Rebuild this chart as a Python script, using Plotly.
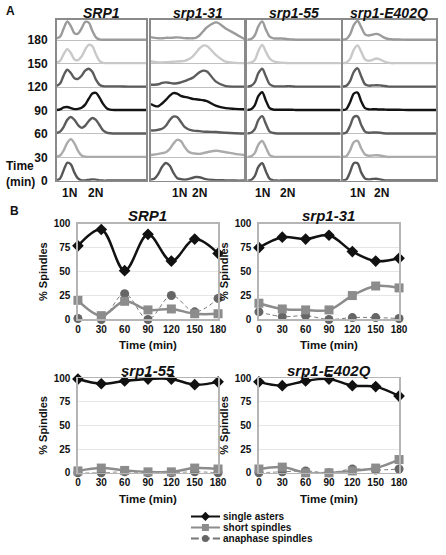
import plotly.graph_objects as go

W, H = 446, 555

# ---------------- data ----------------
STRAINS = ["SRP1", "srp1-31", "srp1-55", "srp1-E402Q"]
TIMES = [0, 30, 60, 90, 120, 150, 180]
TIME_LABELS = ["0", "30", "60", "90", "120", "150", "180"]

# Panel A: DNA-content histograms (relative DNA content in %, height in row units)
DNA_GRID = [0, 4, 8, 12, 16, 20, 24, 28, 32, 36, 40, 44, 48, 52, 56, 60, 70, 80, 90, 100]

SRP1_HIST = [
    [0.02, 0.10, 0.45, 0.77, 0.70, 0.35, 0.10, 0.02, 0.02, 0.04, 0.06, 0.05, 0.02, 0.01, 0.01, 0.01, 0.01, 0.01, 0.01, 0.01],
    [0.03, 0.08, 0.30, 0.62, 0.78, 0.60, 0.28, 0.08, 0.03, 0.02, 0.02, 0.02, 0.02, 0.02, 0.02, 0.02, 0.02, 0.02, 0.02, 0.02],
    [0.04, 0.10, 0.30, 0.60, 0.72, 0.60, 0.38, 0.26, 0.35, 0.55, 0.68, 0.60, 0.38, 0.15, 0.06, 0.03, 0.02, 0.02, 0.02, 0.02],
    [0.02, 0.05, 0.13, 0.15, 0.10, 0.06, 0.07, 0.12, 0.25, 0.50, 0.72, 0.75, 0.55, 0.28, 0.10, 0.04, 0.02, 0.02, 0.02, 0.02],
    [0.05, 0.15, 0.50, 0.74, 0.60, 0.38, 0.35, 0.48, 0.70, 0.78, 0.65, 0.32, 0.10, 0.04, 0.03, 0.03, 0.03, 0.02, 0.02, 0.02],
    [0.05, 0.12, 0.40, 0.62, 0.45, 0.18, 0.15, 0.30, 0.60, 0.80, 0.75, 0.40, 0.12, 0.03, 0.02, 0.02, 0.02, 0.02, 0.02, 0.02],
    [0.08, 0.15, 0.50, 0.80, 0.60, 0.30, 0.28, 0.50, 0.78, 0.75, 0.40, 0.12, 0.03, 0.02, 0.02, 0.02, 0.02, 0.02, 0.02, 0.02],
]
SRP1_31_HIST = [
    [0.05, 0.10, 0.30, 0.60, 0.76, 0.65, 0.35, 0.12, 0.07, 0.05, 0.07, 0.12, 0.16, 0.15, 0.10, 0.06, 0.03, 0.02, 0.01, 0.01],
    [0.10, 0.12, 0.15, 0.18, 0.22, 0.35, 0.58, 0.75, 0.70, 0.45, 0.25, 0.18, 0.16, 0.15, 0.18, 0.22, 0.28, 0.22, 0.15, 0.10],
    [0.15, 0.15, 0.18, 0.22, 0.35, 0.58, 0.74, 0.72, 0.52, 0.30, 0.20, 0.15, 0.13, 0.12, 0.10, 0.09, 0.08, 0.05, 0.03, 0.02],
    [0.28, 0.20, 0.18, 0.30, 0.45, 0.62, 0.74, 0.72, 0.62, 0.58, 0.55, 0.50, 0.48, 0.46, 0.44, 0.40, 0.20, 0.10, 0.07, 0.05],
    [0.10, 0.10, 0.12, 0.18, 0.20, 0.18, 0.15, 0.16, 0.20, 0.25, 0.32, 0.38, 0.50, 0.63, 0.70, 0.66, 0.22, 0.04, 0.02, 0.02],
    [0.10, 0.07, 0.05, 0.05, 0.06, 0.07, 0.08, 0.09, 0.10, 0.12, 0.18, 0.28, 0.45, 0.65, 0.77, 0.75, 0.35, 0.08, 0.03, 0.02],
    [0.13, 0.10, 0.08, 0.08, 0.10, 0.10, 0.11, 0.12, 0.11, 0.09, 0.08, 0.08, 0.10, 0.20, 0.38, 0.55, 0.76, 0.50, 0.28, 0.05],
]
SRP1_55_HIST = [
    [0.01, 0.03, 0.20, 0.60, 0.75, 0.40, 0.08, 0.02, 0.01, 0.01, 0.01, 0.01, 0.01, 0.01, 0.01, 0.01, 0.01, 0.01, 0.01, 0.01],
    [0.02, 0.04, 0.18, 0.55, 0.70, 0.42, 0.10, 0.03, 0.02, 0.02, 0.02, 0.02, 0.02, 0.02, 0.02, 0.02, 0.02, 0.02, 0.02, 0.02],
    [0.02, 0.05, 0.20, 0.60, 0.76, 0.42, 0.10, 0.04, 0.02, 0.02, 0.02, 0.02, 0.02, 0.02, 0.02, 0.02, 0.02, 0.02, 0.02, 0.02],
    [0.02, 0.05, 0.22, 0.62, 0.78, 0.42, 0.10, 0.04, 0.03, 0.03, 0.03, 0.03, 0.03, 0.02, 0.02, 0.02, 0.02, 0.02, 0.02, 0.02],
    [0.02, 0.05, 0.20, 0.60, 0.78, 0.45, 0.12, 0.04, 0.03, 0.03, 0.03, 0.04, 0.03, 0.02, 0.02, 0.02, 0.02, 0.02, 0.02, 0.02],
    [0.02, 0.04, 0.15, 0.55, 0.80, 0.50, 0.22, 0.10, 0.06, 0.04, 0.03, 0.02, 0.02, 0.02, 0.02, 0.02, 0.02, 0.02, 0.02, 0.02],
    [0.02, 0.05, 0.20, 0.60, 0.80, 0.45, 0.15, 0.08, 0.07, 0.07, 0.06, 0.04, 0.03, 0.02, 0.02, 0.02, 0.02, 0.02, 0.02, 0.02],
]
SRP1_E402Q_HIST = [
    [0.02, 0.06, 0.38, 0.75, 0.75, 0.35, 0.10, 0.06, 0.08, 0.09, 0.06, 0.03, 0.02, 0.02, 0.02, 0.02, 0.02, 0.02, 0.02, 0.02],
    [0.02, 0.05, 0.30, 0.65, 0.70, 0.38, 0.12, 0.07, 0.08, 0.09, 0.08, 0.05, 0.02, 0.02, 0.02, 0.02, 0.02, 0.02, 0.02, 0.02],
    [0.02, 0.06, 0.35, 0.72, 0.75, 0.38, 0.10, 0.05, 0.06, 0.06, 0.05, 0.03, 0.02, 0.02, 0.02, 0.02, 0.02, 0.02, 0.02, 0.02],
    [0.02, 0.06, 0.35, 0.72, 0.76, 0.38, 0.10, 0.05, 0.05, 0.05, 0.04, 0.04, 0.03, 0.03, 0.03, 0.03, 0.02, 0.02, 0.02, 0.02],
    [0.02, 0.05, 0.25, 0.65, 0.80, 0.45, 0.12, 0.06, 0.07, 0.08, 0.07, 0.05, 0.03, 0.02, 0.02, 0.02, 0.02, 0.02, 0.02, 0.02],
    [0.02, 0.04, 0.20, 0.60, 0.78, 0.50, 0.18, 0.12, 0.16, 0.22, 0.18, 0.10, 0.04, 0.02, 0.02, 0.02, 0.02, 0.02, 0.02, 0.02],
    [0.02, 0.05, 0.25, 0.65, 0.82, 0.55, 0.25, 0.20, 0.24, 0.27, 0.22, 0.12, 0.06, 0.04, 0.03, 0.03, 0.02, 0.02, 0.02, 0.02],
]
HISTS = [SRP1_HIST, SRP1_31_HIST, SRP1_55_HIST, SRP1_E402Q_HIST]
ROW_COLORS = ["#575757", "#ababab", "#5c5c5c", "#141414", "#5c5c5c", "#c9c9c9", "#9b9b9b"]

# Panel B: % spindles
SRP1_ASTERS = [77, 94, 51, 89, 61, 84, 69]
SRP1_SHORT = [20, 4, 19, 10, 11, 6, 6]
SRP1_ANA = [1, 0, 27, 0, 25, 8, 22]

SRP1_31_ASTERS = [75, 86, 84, 88, 71, 61, 64]
SRP1_31_SHORT = [17, 11, 10, 10, 25, 35, 33]
SRP1_31_ANA = [8, 3, 4, 0, 2, 2, 1]

SRP1_55_ASTERS = [99, 94, 97, 99, 99, 93, 96]
SRP1_55_SHORT = [2, 5, 2.5, 1, 1, 5, 4]
SRP1_55_ANA = [0, 0, 1, 0, 0, 1, 0]

SRP1_E402Q_ASTERS = [96, 92, 97, 99, 92, 91, 81]
SRP1_E402Q_SHORT = [4, 6, 0, 0, 2, 5, 14]
SRP1_E402Q_ANA = [0, 1, 2, 0, 4, 3, 4]

SPINDLES = [
    (SRP1_ASTERS, SRP1_SHORT, SRP1_ANA),
    (SRP1_31_ASTERS, SRP1_31_SHORT, SRP1_31_ANA),
    (SRP1_55_ASTERS, SRP1_55_SHORT, SRP1_55_ANA),
    (SRP1_E402Q_ASTERS, SRP1_E402Q_SHORT, SRP1_E402Q_ANA),
]
SERIES_NAMES = ["single asters", "short spindles", "anaphase spindles"]
Y_TICKS = [0, 25, 50, 75, 100]

# ---------------- style ----------------
FONT = "Liberation Sans, Arial, sans-serif"
NARROW = "Liberation Sans Narrow, Arial Narrow, Liberation Sans, Arial, sans-serif"
SER_STYLE = [
    dict(line=dict(color="#111111", width=2.5, shape="spline", smoothing=1.0),
         marker=dict(symbol="diamond", size=9, color="#111111")),
    dict(line=dict(color="#8c8c8c", width=2.5, shape="spline", smoothing=1.0),
         marker=dict(symbol="square", size=9, color="#8c8c8c")),
    dict(line=dict(color="#777777", width=1, dash="4px,3px", shape="spline", smoothing=1.0),
         marker=dict(symbol="circle", size=9, color="#666666")),
]


def dx(a, b):
    return [a / W, b / W]


def dy(top, bottom):
    return [1 - bottom / H, 1 - top / H]


fig = go.Figure()
layout = dict(width=W, height=H, margin=dict(l=0, r=0, t=0, b=0),
              paper_bgcolor="white", plot_bgcolor="white", showlegend=False,
              font=dict(family=FONT, color="#111111"))
annotations = []

# ---------------- panel A ----------------
A_X = [(55, 147), (152, 248), (251, 347), (349, 445)]
A_TOP, A_BOT = 14, 179
A_TOP_UNITS = (A_BOT - A_TOP) / 24.0

for i, (hist, (x0, x1)) in enumerate(zip(HISTS, A_X)):
    n = i + 1
    xa, ya = f"x{n}", f"y{n}"
    for r, vals in enumerate(hist):
        fig.add_trace(go.Scatter(
            x=DNA_GRID, y=[r + v for v in vals], xaxis=xa, yaxis=ya, mode="lines",
            line=dict(color=ROW_COLORS[r], width=2.4, shape="spline", smoothing=0.9),
            hoverinfo="skip", cliponaxis=True))
    layout[f"xaxis{n}"] = dict(domain=dx(x0, x1), range=[0, 100], anchor=ya,
                               showgrid=False, zeroline=False, showticklabels=False,
                               ticks="", showline=True, mirror=True,
                               linecolor="#8a8a8a", linewidth=1.5)
    layout[f"yaxis{n}"] = dict(domain=dy(A_TOP, A_BOT), range=[0, A_TOP_UNITS], anchor=xa,
                               tickvals=list(range(len(TIMES))), ticktext=TIME_LABELS,
                               showticklabels=(i == 0), ticks="", ticklabelstandoff=5,
                               tickfont=dict(size=12, family=FONT, weight="bold"),
                               showgrid=True, gridcolor="#b0b0b0", gridwidth=0.8,
                               zeroline=False, showline=True, mirror=True,
                               linecolor="#8a8a8a", linewidth=1.5)
    annotations.append(dict(text=f"<b><i>{STRAINS[i]}</i></b>", x=(x0 + x1) / 2 / W,
                            y=1 - 7 / H, xref="paper", yref="paper", showarrow=False,
                            font=dict(size=14, family=FONT), xanchor="center", yanchor="middle"))

N_LABEL_X = [(68, 95), (181, 202), (267, 292), (364, 389)]
for p1, p2 in N_LABEL_X:
    for xx, t in ((p1, "1N"), (p2, "2N")):
        annotations.append(dict(text=f"<b>{t}</b>", x=xx / W, y=1 - 191 / H, xref="paper",
                                yref="paper", showarrow=False, font=dict(size=12, family=FONT),
                                xanchor="center", yanchor="middle"))
annotations.append(dict(text="<b>Time<br>(min)</b>", x=1 / W, y=1 - 172 / H, xref="paper",
                        yref="paper", showarrow=False, align="left",
                        font=dict(size=12, family=FONT), xanchor="left", yanchor="middle"))
annotations.append(dict(text="<b>A</b>", x=1 / W, y=1 - 5 / H, xref="paper", yref="paper",
                        showarrow=False, font=dict(size=12, family=FONT),
                        xanchor="left", yanchor="middle"))
annotations.append(dict(text="<b>B</b>", x=5 / W, y=1 - 210 / H, xref="paper", yref="paper",
                        showarrow=False, font=dict(size=12, family=FONT),
                        xanchor="left", yanchor="middle"))

# ---------------- panel B ----------------
B_POS = [((77, 221), (223, 321)), ((263, 407), (223, 321)),
         ((77, 221), (381, 478)), ((263, 407), (381, 478))]
for i, (series, ((x0, x1), (t, b))) in enumerate(zip(SPINDLES, B_POS)):
    n = i + 5
    xa, ya = f"x{n}", f"y{n}"
    for s in (2, 1, 0):
        fig.add_trace(go.Scatter(
            x=TIMES, y=series[s], xaxis=xa, yaxis=ya, mode="lines+markers",
            name=SERIES_NAMES[s], cliponaxis=False, hoverinfo="skip", **SER_STYLE[s]))
    layout[f"xaxis{n}"] = dict(domain=dx(x0, x1), range=[0, 180], anchor=ya,
                               tickvals=TIMES, ticktext=TIME_LABELS, ticks="",
                               tickfont=dict(size=10, family=NARROW, weight="bold"),
                               showgrid=False, zeroline=False, showline=True, mirror=True,
                               linecolor="#b5b5b5", linewidth=1.5,
                               title=dict(text="<b>Time (min)</b>", standoff=7,
                                          font=dict(size=11.5, family=FONT)))
    layout[f"yaxis{n}"] = dict(domain=dy(t, b), range=[0, 100], anchor=xa,
                               tickvals=Y_TICKS, ticks="", ticklabelstandoff=4,
                               tickfont=dict(size=10, family=NARROW, weight="bold"),
                               showgrid=True, gridcolor="#e6e6e6", gridwidth=1,
                               zeroline=False, showline=True, mirror=True,
                               linecolor="#b5b5b5", linewidth=1.5,
                               title=dict(text="<b>% Spindles</b>", standoff=4,
                                          font=dict(size=11, family=FONT)))
    annotations.append(dict(text=f"<b><i>{STRAINS[i]}</i></b>", x=(x0 + x1) / 2 / W,
                            y=1 - (t - 8) / H, xref="paper", yref="paper", showarrow=False,
                            font=dict(size=15, family=FONT), xanchor="center", yanchor="middle"))

# ---------------- legend (compact key) ----------------
LEG_ROWS = [0, 1, 2]
layout["xaxis9"] = dict(domain=dx(193, 223), range=[0, 1], anchor="y9", visible=False)
layout["yaxis9"] = dict(domain=dy(517, 551), range=[2.5, -0.5], anchor="x9", visible=False)
for s, r in zip(range(3), LEG_ROWS):
    st = SER_STYLE[s]
    fig.add_trace(go.Scatter(x=[0, 1], y=[r, r], xaxis="x9", yaxis="y9", mode="lines",
                             line=dict(color=st["line"]["color"], width=2,
                                       dash="solid" if s < 2 else "8px,3px"),
                             hoverinfo="skip", cliponaxis=False))
    fig.add_trace(go.Scatter(x=[0.5], y=[r], xaxis="x9", yaxis="y9", mode="markers",
                             marker=dict(symbol=st["marker"]["symbol"], size=7,
                                         color=st["marker"]["color"]),
                             hoverinfo="skip", cliponaxis=False))
    annotations.append(dict(text=f"<b>{SERIES_NAMES[s]}</b>", x=224 / W,
                            y=1 - (522.5 + 11.5 * r) / H, xref="paper", yref="paper",
                            showarrow=False, font=dict(size=10, family=FONT),
                            xanchor="left", yanchor="middle"))

layout["annotations"] = annotations
fig.update_layout(**layout)
fig.write_html("out.html", config={"displayModeBar": False, "staticPlot": True},
               post_script="document.body.style.margin='0';document.body.style.overflow='hidden';")
